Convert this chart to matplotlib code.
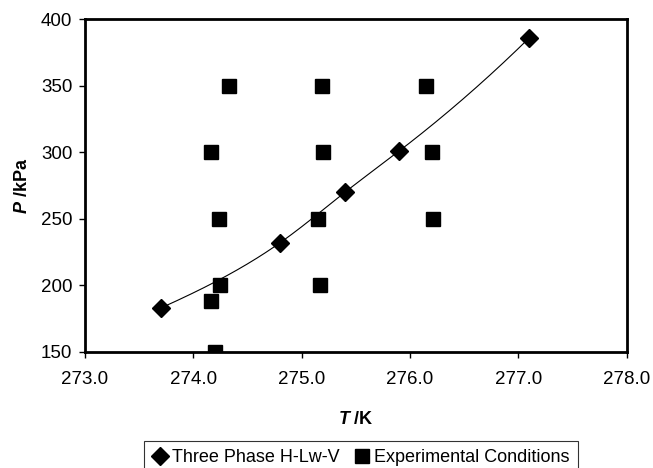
import numpy as np
import matplotlib.pyplot as plt
from matplotlib.lines import Line2D

plt.rcParams['font.family'] = ['Liberation Sans', 'DejaVu Sans']
plt.rcParams['mathtext.fontset'] = 'custom'
plt.rcParams['mathtext.rm'] = 'Liberation Sans'
plt.rcParams['mathtext.it'] = 'Liberation Sans:italic'
plt.rcParams['mathtext.bf'] = 'Liberation Sans:bold'
plt.rcParams['mathtext.bfit'] = 'Liberation Sans:bold:italic'

# -----------------------------
# Data
# -----------------------------
# three phase H-Lw-V equilibrium
T_eq = [273.7, 274.8, 275.4, 275.9, 277.1]
P_eq = [183, 232, 270, 301, 386]

# experimental conditions
T_exp = [274.33, 274.16, 274.24, 274.25, 274.16, 274.20,
         275.19, 275.20, 275.15, 275.17,
         276.15, 276.20, 276.21]
P_exp = [350, 300, 250, 200, 188, 150,
         350, 300, 250, 200,
         350, 300, 250]

x_ticks = [273.0, 274.0, 275.0, 276.0, 277.0, 278.0]
y_ticks = [150, 200, 250, 300, 350, 400]


def spline(xs, ys, n=300):
    # natural cubic spline through the points (smoothed line)
    x = np.asarray(xs, float)
    y = np.asarray(ys, float)
    m = len(x)
    h = np.diff(x)
    A = np.zeros((m, m))
    b = np.zeros(m)
    A[0, 0] = A[-1, -1] = 1
    for i in range(1, m - 1):
        A[i, i - 1] = h[i - 1]
        A[i, i] = 2 * (h[i - 1] + h[i])
        A[i, i + 1] = h[i]
        b[i] = 6 * ((y[i + 1] - y[i]) / h[i] - (y[i] - y[i - 1]) / h[i - 1])
    M = np.linalg.solve(A, b)
    xx = np.linspace(x[0], x[-1], n)
    k = np.clip(np.searchsorted(x, xx) - 1, 0, m - 2)
    t1 = x[k + 1] - xx
    t0 = xx - x[k]
    yy = (M[k] * t1 ** 3 + M[k + 1] * t0 ** 3) / (6 * h[k]) \
        + (y[k] / h[k] - M[k] * h[k] / 6) * t1 \
        + (y[k + 1] / h[k] - M[k + 1] * h[k] / 6) * t0
    return xx, yy


# -----------------------------
# Plot
# -----------------------------
fig = plt.figure(figsize=(6.53, 4.68), dpi=100)
ax = fig.add_axes([0.130, 0.248, 0.830, 0.711])

# smooth in log(P) so the curve bends the same way all along
cx, cy = spline(T_eq, np.log(P_eq))
ax.plot(cx, np.exp(cy), color='black', lw=0.8, zorder=2)
ax.plot(T_eq, P_eq, 'D', color='black', ms=9, zorder=3)
ax.plot(T_exp, P_exp, 's', color='black', ms=10.5, zorder=3)

ax.set_xlim(273.0, 278.0)
ax.set_ylim(150, 400)
ax.set_xticks(x_ticks)
ax.set_xticklabels([f'{v:.1f}' for v in x_ticks])
ax.set_yticks(y_ticks)
ax.tick_params(labelsize=13.5, direction='out', length=4, width=1)
ax.tick_params(axis='x', pad=10)
ax.tick_params(axis='y', pad=5)
for s in ax.spines.values():
    s.set_linewidth(2)

ax.set_xlabel(r'$\mathbfit{T}$ /K', fontsize=13, fontweight='bold', labelpad=16)
ax.set_ylabel(r'$\mathbfit{P}$ /kPa', fontsize=13, fontweight='bold', labelpad=7)

handles = [Line2D([], [], ls='none', marker='D', color='black', ms=9),
           Line2D([], [], ls='none', marker='s', color='black', ms=10.5)]
leg = fig.legend(handles, ['Three Phase H-Lw-V', 'Experimental Conditions'],
                 loc='upper center', bbox_to_anchor=(0.553, 0.058), ncol=2,
                 fontsize=13, frameon=True, fancybox=False, handlelength=0.8,
                 handletextpad=0.3, columnspacing=0.8, borderpad=0.45,
                 borderaxespad=0)
leg.get_frame().set_edgecolor('black')
leg.get_frame().set_linewidth(0.8)

fig.savefig('out.png', dpi=100)
